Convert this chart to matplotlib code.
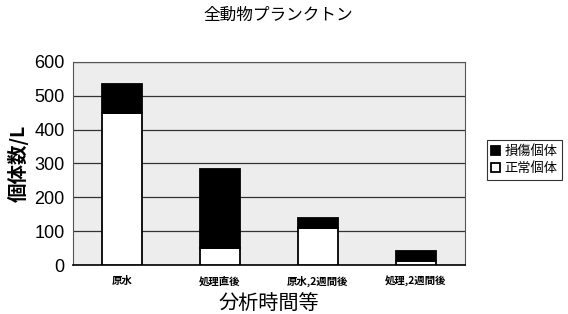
import matplotlib
matplotlib.use("Agg")
import matplotlib.pyplot as plt
import numpy as np

plt.rcParams['font.family'] = ['Noto Sans CJK JP', 'DejaVu Sans']

categories = ["原水", "処理直後", "原水,2週間後", "処理,2週間後"]
normal = [450, 49, 108, 12]
damaged = [86, 235, 30, 30]
yticks = [0, 100, 200, 300, 400, 500, 600]

fig = plt.figure(figsize=(5.68, 3.14), dpi=100)
ax = fig.add_axes([0.1285, 0.156, 0.69, 0.647])
ax.set_facecolor('#ededed')

x = np.arange(len(categories))
w = 0.41
ax.bar(x, normal, w, color='white', edgecolor='black', linewidth=1.3, label='正常個体', zorder=3)
ax.bar(x, damaged, w, bottom=normal, color='black', edgecolor='black', linewidth=1.3, label='損傷個体', zorder=3)

ax.set_xlim(-0.5, 3.5)
ax.set_ylim(0, 600)
ax.set_yticks(yticks)
ax.set_yticklabels([str(v) for v in yticks], fontsize=13, family=['Liberation Sans', 'DejaVu Sans'])
ax.set_xticks(x)
ax.set_xticklabels(categories, fontsize=7.5, fontweight='bold')
ax.tick_params(axis='both', length=0, pad=6)
ax.tick_params(axis='x', pad=8)
ax.yaxis.grid(True, color='#333333', linewidth=0.9, zorder=0)
ax.set_axisbelow(True)
for s in ax.spines.values():
    s.set_color('#555555')
    s.set_linewidth(0.8)
ax.spines['bottom'].set_color('black')
ax.spines['bottom'].set_linewidth(1.2)

ax.set_ylabel('個体数/L', fontsize=14, labelpad=4, fontweight='bold')
ax.set_xlabel('分析時間等', fontsize=14.5, labelpad=4)
fig.text(0.49, 0.952, '全動物プランクトン', ha='center', va='center', fontsize=12)

h, l = ax.get_legend_handles_labels()
leg = fig.legend(h[::-1], l[::-1], loc='center left', bbox_to_anchor=(0.845, 0.49),
                 fontsize=9.5, frameon=True, fancybox=False, edgecolor='black',
                 handlelength=0.7, handleheight=0.7, handletextpad=0.3,
                 borderpad=0.35, labelspacing=0.35)
leg.get_frame().set_linewidth(0.8)

fig.savefig('out.png', dpi=100, facecolor='white')
